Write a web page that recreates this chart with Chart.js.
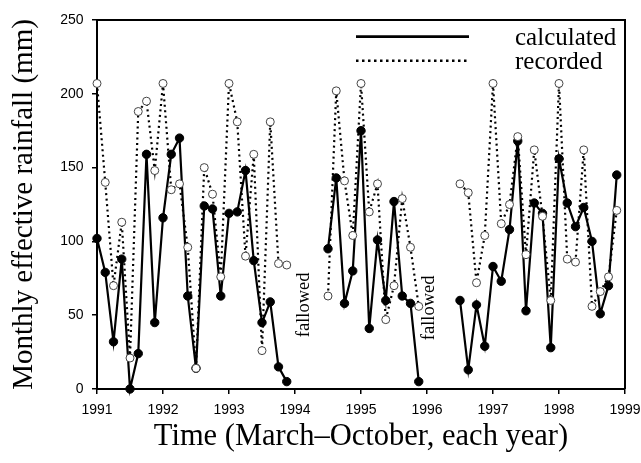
<!DOCTYPE html>
<html><head><meta charset="utf-8">
<script src="https://cdn.jsdelivr.net/npm/chart.js@4"></script>
<style>html,body{margin:0;padding:0;background:#fff;}canvas{display:block;}</style>
</head><body>
<canvas id="c" width="641" height="463"></canvas>
<script>
// ---- data ----
const years = [1991, 1992, 1993, 1994, 1995, 1996, 1997, 1998];
const months = ['Mar', 'Apr', 'May', 'Jun', 'Jul', 'Aug', 'Sep', 'Oct'];
// calculated effective rainfall (mm), March..October of each year (null = fallowed)
const calculated = [
  102, 79, 32, 88, 0, 24, 159, 45,
  116, 159, 170, 63, 14, 124, 122, 63,
  119, 120, 148, 87, 45, 59, 15, 5,
  null, null, null, null, 95, 143, 58, 80,
  175, 41, 101, 60, 127, 63, 58, 5,
  null, null, null, null, 60, 13, 57, 29,
  83, 73, 108, 168, 53, 126, 119, 28,
  156, 126, 110, 123, 100, 51, 70, 145
];
// recorded effective rainfall (mm)
const recorded = [
  207, 140, 70, 113, 21, 188, 195, 148,
  207, 135, 139, 96, 14, 150, 132, 76,
  207, 181, 90, 159, 26, 181, 85, 84,
  null, null, null, null, 63, 202, 141, 104,
  207, 120, 139, 47, 70, 129, 96, 56,
  null, null, null, null, 139, 133, 72, 104,
  207, 112, 125, 171, 91, 162, 117, 60,
  207, 88, 86, 162, 56, 66, 76, 121
];
const xTicks = [1991, 1992, 1993, 1994, 1995, 1996, 1997, 1998, 1999];
const yTicks = [0, 50, 100, 150, 200, 250];
const seriesNames = ['calculated', 'recorded'];
const fallowYears = [1994, 1996];
const fallowText = 'fallowed';
const xTitle = 'Time (March\u2013October, each year)';
const yTitle = 'Monthly effective rainfall (mm)';

function toPoints(vals) {
  const pts = [];
  years.forEach((yr, yi) => months.forEach((m, mi) => {
    pts.push({ x: yr + mi / months.length, y: vals[yi * months.length + mi] });
  }));
  return pts;
}

const serif = '"Liberation Serif", "Times New Roman", serif';
const sans = '"Liberation Sans", Arial, sans-serif';

const framePlugin = {
  id: 'frame',
  afterDraw(chart) {
    const { ctx, chartArea: a } = chart;
    ctx.save();
    ctx.strokeStyle = '#000';
    ctx.lineWidth = 2;
    ctx.beginPath();
    ctx.moveTo(a.left - 1, a.top);
    ctx.lineTo(a.right, a.top);
    ctx.lineTo(a.right, a.bottom);
    ctx.stroke();
    ctx.restore();
  }
};

const notesPlugin = {
  id: 'notes',
  afterDatasetsDraw(chart) {
    const { ctx, scales } = chart;
    const offs = [{ dx: 0.14, y: 57 }, { dx: 0.04, y: 55 }];
    ctx.save();
    ctx.fillStyle = '#000';
    ctx.font = '18.5px ' + serif;
    ctx.textAlign = 'center';
    ctx.textBaseline = 'middle';
    fallowYears.forEach((yr, i) => {
      const px = scales.x.getPixelForValue(yr + offs[i].dx);
      const py = scales.y.getPixelForValue(offs[i].y);
      ctx.save();
      ctx.translate(px, py);
      ctx.rotate(-Math.PI / 2);
      ctx.fillText(fallowText, 0, 0);
      ctx.restore();
    });
    // legend
    ctx.strokeStyle = '#000';
    ctx.lineWidth = 2.8;
    ctx.beginPath();
    ctx.moveTo(356, 36.7); ctx.lineTo(469, 36.7);
    ctx.stroke();
    ctx.lineWidth = 2.5;
    ctx.setLineDash([2.5, 3.5]);
    ctx.beginPath();
    ctx.moveTo(356, 60.7); ctx.lineTo(469, 60.7);
    ctx.stroke();
    ctx.setLineDash([]);
    ctx.font = '25px ' + serif;
    ctx.textAlign = 'left';
    ctx.textBaseline = 'alphabetic';
    ctx.fillText(seriesNames[0], 515, 45);
    ctx.fillText(seriesNames[1], 515, 68.5);
    ctx.restore();
  }
};

new Chart(document.getElementById('c'), {
  type: 'line',
  data: {
    datasets: [
      {
        label: seriesNames[1],
        data: toPoints(recorded),
        order: 0,
        borderColor: '#000',
        borderWidth: 2.2,
        borderDash: [2, 3.5],
        pointRadius: 4,
        pointBorderWidth: 1,
        pointBorderColor: '#444',
        pointBackgroundColor: '#fff',
        spanGaps: false,
        clip: false,
        tension: 0
      },
      {
        label: seriesNames[0],
        data: toPoints(calculated),
        order: 1,
        borderColor: '#000',
        borderWidth: 2.2,
        pointRadius: 4.2,
        pointBorderWidth: 1,
        pointBorderColor: '#000',
        pointBackgroundColor: '#000',
        spanGaps: false,
        clip: false,
        tension: 0
      }
    ]
  },
  options: {
    responsive: false,
    animation: false,
    devicePixelRatio: 1,
    layout: { padding: { left: 0, right: 16, top: 20, bottom: 0 } },
    plugins: { legend: { display: false }, tooltip: { enabled: false } },
    scales: {
      x: {
        type: 'linear',
        min: xTicks[0],
        max: xTicks[xTicks.length - 1],
        afterFit(s) { s.height = 74; s.paddingLeft = 0; s.paddingRight = 0; },
        afterBuildTicks(s) { s.ticks = xTicks.map(v => ({ value: v })); },
        ticks: { callback: v => String(v), color: '#000', font: { family: sans, size: 14 }, padding: 7.5, maxRotation: 0, autoSkip: false },
        grid: { drawOnChartArea: false, drawTicks: true, tickLength: 5, color: '#000', lineWidth: 1.5 },
        border: { display: true, color: '#000', width: 2 },
        title: { display: true, text: xTitle, color: '#000', font: { family: serif, size: 30.5 }, padding: { top: 0, bottom: 8 } }
      },
      y: {
        min: yTicks[0],
        max: yTicks[yTicks.length - 1],
        afterFit(s) { s.width = 97; s.paddingTop = 0; s.paddingBottom = 0; },
        afterBuildTicks(s) { s.ticks = yTicks.map(v => ({ value: v })); },
        ticks: { color: '#000', font: { family: sans, size: 14 }, padding: 8.5 },
        grid: { drawOnChartArea: false, drawTicks: true, tickLength: 5, color: '#000', lineWidth: 1.5 },
        border: { display: true, color: '#000', width: 2 },
        title: { display: true, text: yTitle, color: '#000', font: { family: serif, size: 29 }, padding: { top: 6.5, bottom: 0 } }
      }
    }
  },
  plugins: [framePlugin, notesPlugin]
});
</script>
</body></html>
